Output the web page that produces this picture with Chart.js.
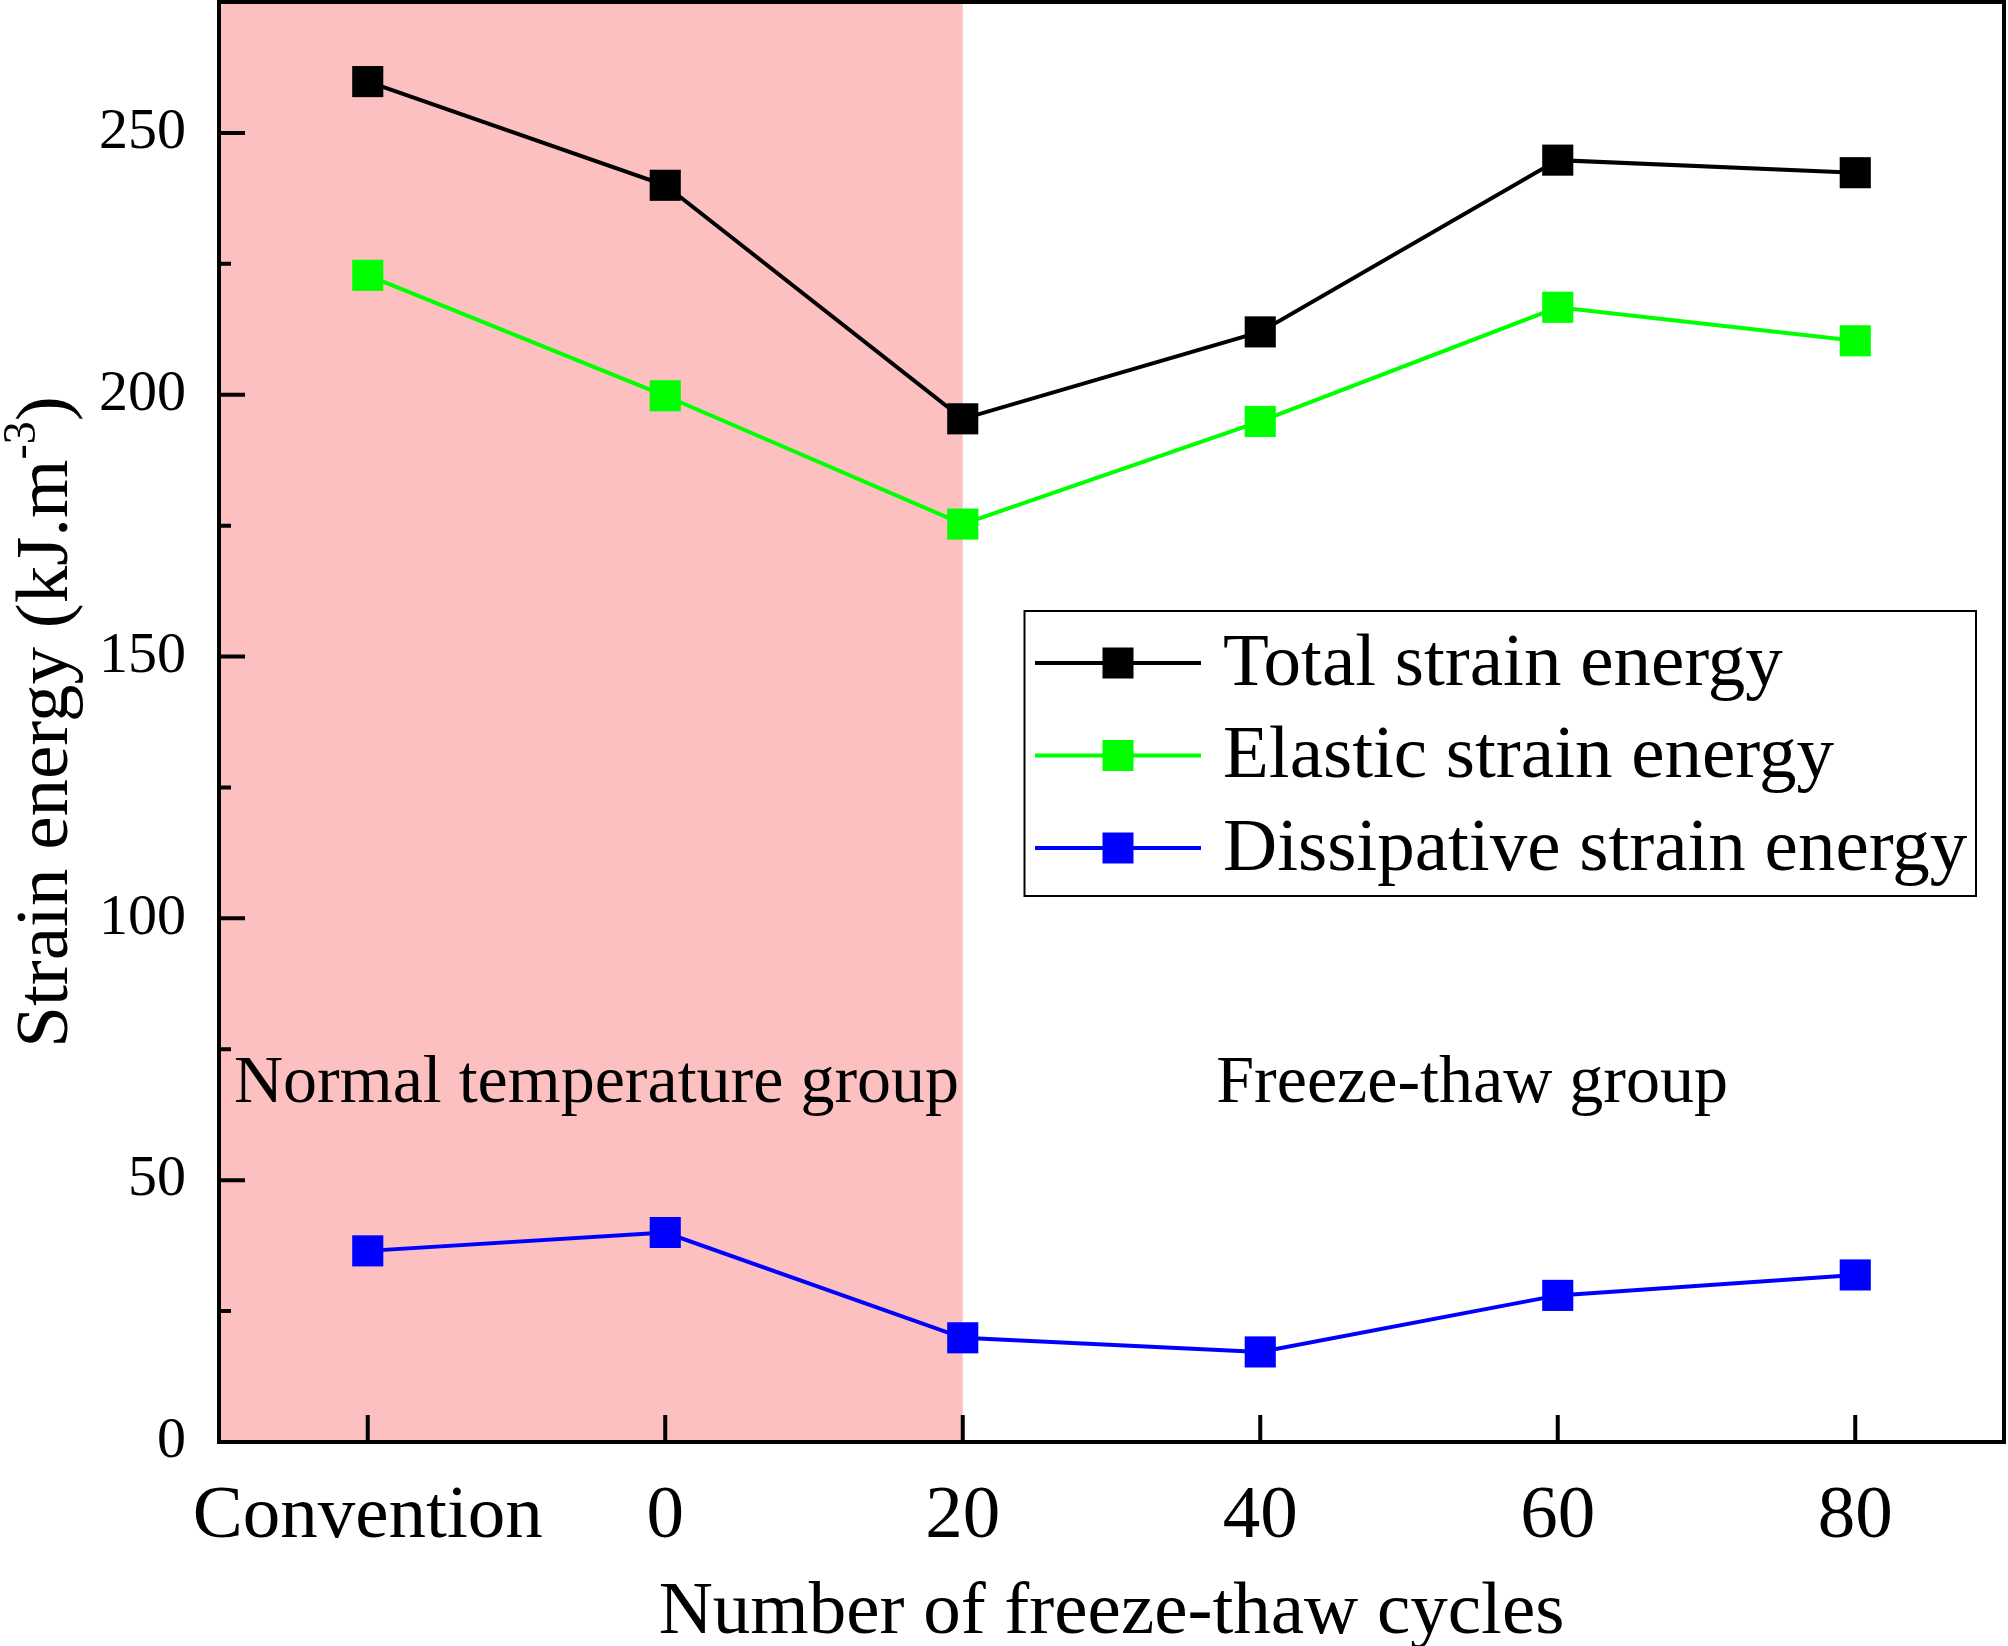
<!DOCTYPE html>
<html><head><meta charset="utf-8">
<script src="https://cdn.jsdelivr.net/npm/chart.js@4.4.1/dist/chart.umd.min.js"></script>
<style>html,body{margin:0;padding:0;background:#fff;} canvas{display:block;}</style>
</head><body>
<canvas id="c" width="2008" height="1646" style="width:2008px;height:1646px"></canvas>
<script>
// ---- data ----
const categories = ['Convention', '0', '20', '40', '60', '80'];
const totalEnergy = [259.8, 240.0, 195.4, 212.0, 244.8, 242.4];
const elasticEnergy = [222.8, 199.8, 175.3, 194.9, 216.7, 210.3];
const dissipativeEnergy = [36.5, 40.0, 19.9, 17.2, 28.0, 31.9];
const seriesNames = ['Total strain energy', 'Elastic strain energy', 'Dissipative strain energy'];
const seriesColors = ['#000000', '#00FF00', '#0000FF'];
const shadedUntil = '20';
const groupLabels = ['Normal temperature group', 'Freeze-thaw group'];
const xTitle = 'Number of freeze-thaw cycles';
const yTitleParts = ['Strain energy (kJ.m', '-3', ')'];
const yMin = 0, yMax = 275, yStep = 25, yLabelStep = 50;

const FONT = "'Liberation Serif', 'Times New Roman', serif";

const decor = {
  id: 'decor',
  beforeDraw(chart) {
    const {ctx, chartArea: a, scales: {x}} = chart;
    ctx.save();
    ctx.fillStyle = '#fff';
    ctx.fillRect(0, 0, chart.width, chart.height);
    const xr = x.getPixelForValue(categories.indexOf(shadedUntil));
    ctx.fillStyle = '#FCC0C0';
    ctx.fillRect(a.left, a.top, xr - a.left, a.bottom - a.top);
    ctx.restore();
  },
  beforeDatasetsDraw(chart) {
    const {ctx, scales: {x, y}} = chart;
    ctx.save();
    ctx.fillStyle = '#000';
    ctx.font = '68px ' + FONT;
    ctx.textBaseline = 'alphabetic';
    ctx.textAlign = 'left';
    const by = y.getPixelForValue(65);
    ctx.fillText(groupLabels[0], chart.chartArea.left + 15, by);
    ctx.fillText(groupLabels[1], x.getPixelForValue(3) - 44, by);
    ctx.restore();
  },
  afterDraw(chart) {
    const {ctx, chartArea: a, scales: {x, y}} = chart;
    ctx.save();
    ctx.strokeStyle = '#000';
    ctx.lineWidth = 4;
    // inward ticks
    ctx.beginPath();
    x.ticks.forEach((t, i) => {
      const px = x.getPixelForTick(i);
      ctx.moveTo(px, a.bottom);
      ctx.lineTo(px, a.bottom - 27);
    });
    y.ticks.forEach((t) => {
      const py = y.getPixelForValue(t.value);
      const len = (t.value % yLabelStep === 0) ? 26 : 12;
      ctx.moveTo(a.left, py);
      ctx.lineTo(a.left + len, py);
    });
    ctx.stroke();
    // frame
    ctx.strokeRect(a.left, a.top, a.right - a.left, a.bottom - a.top);

    // y title with superscript
    ctx.fillStyle = '#000';
    ctx.translate(67, (a.top + a.bottom) / 2);
    ctx.rotate(-Math.PI / 2);
    ctx.textBaseline = 'alphabetic';
    ctx.textAlign = 'left';
    const big = '75px ' + FONT, small = '46px ' + FONT;
    ctx.font = big; const w0 = ctx.measureText(yTitleParts[0]).width;
    ctx.font = small; const w1 = ctx.measureText(yTitleParts[1]).width;
    ctx.font = big; const w2 = ctx.measureText(yTitleParts[2]).width;
    let sx = -(w0 + w1 + w2) / 2;
    ctx.font = big; ctx.fillText(yTitleParts[0], sx, 0); sx += w0;
    ctx.font = small; ctx.fillText(yTitleParts[1], sx, -32); sx += w1;
    ctx.font = big; ctx.fillText(yTitleParts[2], sx, 0);
    ctx.setTransform(1, 0, 0, 1, 0, 0);

    // legend
    const L = {x: 1024.5, y: 611, w: 951.5, h: 285};
    ctx.fillStyle = '#fff';
    ctx.fillRect(L.x, L.y, L.w, L.h);
    ctx.lineWidth = 2;
    ctx.strokeStyle = '#000';
    ctx.strokeRect(L.x, L.y, L.w, L.h);
    const rows = [663, 755.5, 848];
    chart.data.datasets.forEach((ds, i) => {
      const cy = rows[i];
      ctx.strokeStyle = ds.borderColor;
      ctx.lineWidth = 4;
      ctx.beginPath();
      ctx.moveTo(1035, cy);
      ctx.lineTo(1201, cy);
      ctx.stroke();
      ctx.fillStyle = ds.pointBackgroundColor;
      ctx.fillRect(1118 - 15.5, cy - 15.5, 31, 31);
      ctx.fillStyle = '#000';
      ctx.font = '75px ' + FONT;
      ctx.textBaseline = 'middle';
      ctx.fillText(ds.label, 1223, cy + 2);
    });
    ctx.restore();
  }
};

const seriesData = [totalEnergy, elasticEnergy, dissipativeEnergy];
const datasets = seriesData.map((d, i) => ({
  label: seriesNames[i],
  data: d,
  borderColor: seriesColors[i],
  backgroundColor: seriesColors[i],
  pointBackgroundColor: seriesColors[i],
  pointBorderColor: seriesColors[i],
  pointBorderWidth: 0,
  pointStyle: 'rect',
  pointRadius: 22,
  borderWidth: 4,
  tension: 0,
  fill: false,
  clip: false
}));

new Chart(document.getElementById('c'), {
  type: 'line',
  data: {labels: categories, datasets},
  options: {
    responsive: false,
    devicePixelRatio: 1,
    animation: false,
    events: [],
    layout: {autoPadding: false, padding: {left: 0, top: 2, right: 4, bottom: 0}},
    plugins: {legend: {display: false}, tooltip: {enabled: false}, title: {display: false}},
    scales: {
      x: {
        type: 'category',
        offset: true,
        grid: {display: false, drawTicks: false},
        border: {display: false},
        ticks: {color: '#000', font: {family: FONT, size: 75}, padding: 30, maxRotation: 0, autoSkip: false},
        title: {display: true, text: xTitle, color: '#000', font: {family: FONT, size: 75, lineHeight: 1}, padding: {top: 0, bottom: -5}},
        afterFit(s) { s.height = 204; s.paddingLeft = 0; s.paddingRight = 0; s.paddingTop = 0; s.paddingBottom = 0; }
      },
      y: {
        type: 'linear',
        min: yMin, max: yMax,
        grid: {display: false, drawTicks: false},
        border: {display: false},
        ticks: {
          stepSize: yStep,
          color: '#000',
          font: {family: FONT, size: 58},
          padding: 33,
          callback: (v) => (v % yLabelStep === 0 ? String(v) : '')
        },
        afterFit(s) { s.width = 219; s.paddingLeft = 0; s.paddingRight = 0; s.paddingTop = 0; s.paddingBottom = 0; }
      }
    }
  },
  plugins: [decor]
});
</script>
</body></html>
